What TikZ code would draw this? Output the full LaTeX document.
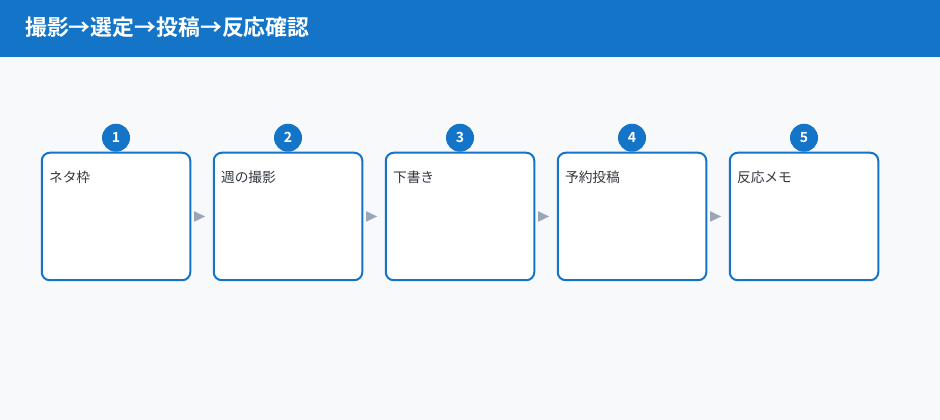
\documentclass[tikz,border=0pt]{standalone}
\usepackage{fontspec}
\newfontfamily\jp{Noto Sans CJK JP}
\newfontfamily\jpb{Noto Sans CJK JP Bold}
\setmainfont{Noto Sans}
\definecolor{hdr}{HTML}{1475C8}
\definecolor{bg}{HTML}{F8F9FB}
\definecolor{txt}{HTML}{333840}
\definecolor{arr}{HTML}{9AA5B8}
\tikzset{
  stepbox/.style={draw=hdr, line width=1.5pt, fill=white, rounded corners=6pt, minimum width=111.4pt, minimum height=95.6pt, inner sep=0pt},
  badge/.style={circle, fill=hdr, minimum size=21pt, inner sep=0pt, text=white, font=\jpb\fontsize{10.5}{12}\selectfont},
  steplabel/.style={anchor=west, text=txt, font=\jp\fontsize{10.3}{12}\selectfont, inner sep=0pt},
  flowarrow/.style={fill=arr, draw=none},
}
\begin{document}
\begin{tikzpicture}[x=0.75pt,y=-0.75pt]
\fill[bg] (0,0) rectangle (940,420);
\useasboundingbox (0,0) rectangle (940,420);
\fill[hdr] (0,0) rectangle (940,57);
\node[anchor=west, text=white, font=\jpb\fontsize{16.4}{19}\selectfont, inner sep=0pt] (title) at (25,27) {撮影→選定→投稿→反応確認};
\foreach \i/\x/\t in {1/40.75/ネタ枠, 2/212.75/週の撮影, 3/384.75/下書き, 4/556.75/予約投稿, 5/728.75/反応メモ}{
  \node[stepbox, anchor=north west] (b\i) at (\x,151.75) {};
  \node[steplabel] (l\i) at (\x+8,177) {\t};
  \node[badge] (n\i) at (b\i.north) [yshift=10.5pt] {\i};
}
\foreach \a/\b in {1/2,2/3,3/4,4/5}{
  \path (b\a.east) -- (b\b.west) coordinate[pos=0.5] (m\a);
  \fill[flowarrow] ([xshift=-6pt,yshift=4pt]m\a) -- ([xshift=2.3pt]m\a) -- ([xshift=-6pt,yshift=-4pt]m\a) -- cycle;
}
\end{tikzpicture}
\end{document}
